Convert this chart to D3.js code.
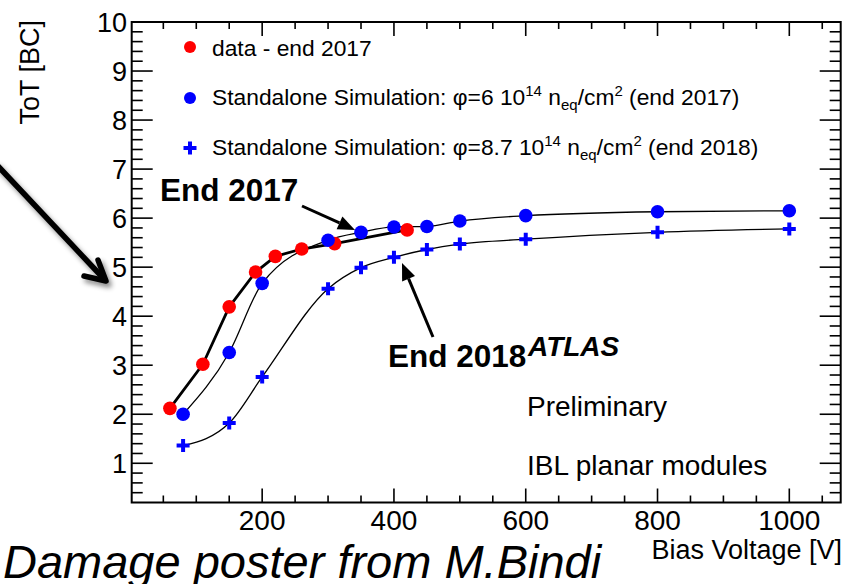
<!DOCTYPE html>
<html>
<head>
<meta charset="utf-8">
<script src="https://cdn.jsdelivr.net/npm/d3@7/dist/d3.min.js"></script>
<style>
  html, body { margin: 0; padding: 0; background: #fff; }
  svg text { font-family: "Liberation Sans", Arial, Helvetica, sans-serif; }
</style>
</head>
<body>
<svg id="chart" width="845" height="584"></svg>
<script>
// Measured ToT versus bias voltage, IBL planar modules
const dataVoltage = [60, 110, 150, 190, 220, 260, 310, 420];
const dataToT     = [2.12, 3.02, 4.19, 4.90, 5.22, 5.37, 5.48, 5.76];

// Standalone simulation, fluence 6e14 neq/cm2 (end 2017)
const sim2017Voltage = [80, 150, 200, 300, 350, 400, 450, 500, 600, 800, 1000];
const sim2017ToT     = [2.00, 3.26, 4.67, 5.55, 5.71, 5.82, 5.83, 5.94, 6.05, 6.13, 6.15];

// Standalone simulation, fluence 8.7e14 neq/cm2 (end 2018)
const sim2018Voltage = [80, 150, 200, 300, 350, 400, 450, 500, 600, 800, 1000];
const sim2018ToT     = [1.36, 1.82, 2.76, 4.56, 4.99, 5.20, 5.36, 5.47, 5.57, 5.71, 5.78];

const xMajorTicks = [200, 400, 600, 800, 1000];
const yMajorTicks = [1, 2, 3, 4, 5, 6, 7, 8, 9, 10];

const svg = d3.select("#chart");
const frame = { left: 131.7, right: 840.7, top: 22, bottom: 502.5 };

const x = d3.scaleLinear().domain([2, 1078]).range([frame.left, frame.right]);
const y = d3.scaleLinear().domain([0.2, 10]).range([frame.bottom, frame.top]);

const xMinor = d3.range(50, 1078, 50).filter(v => !xMajorTicks.includes(v));
const yMinor = d3.range(0.4, 10, 0.2).map(v => +v.toFixed(1)).filter(v => !yMajorTicks.includes(v));

// shadow for the hand-drawn pointer arrow
const defs = svg.append("defs");
const shadow = defs.append("filter").attr("id", "shadow")
  .attr("x", "-20%").attr("y", "-20%").attr("width", "150%").attr("height", "150%");
shadow.append("feDropShadow").attr("dx", 3).attr("dy", 4)
  .attr("stdDeviation", 2.5).attr("flood-color", "#000").attr("flood-opacity", 0.45);

// ticks on all four sides of the frame
const tickG = svg.append("g").attr("stroke", "#000").attr("stroke-width", 1.6);
function vTicks(vals, len) {
  vals.forEach(v => {
    tickG.append("line").attr("x1", x(v)).attr("x2", x(v))
      .attr("y1", frame.bottom).attr("y2", frame.bottom - len);
    tickG.append("line").attr("x1", x(v)).attr("x2", x(v))
      .attr("y1", frame.top).attr("y2", frame.top + len);
  });
}
function hTicks(vals, len) {
  vals.forEach(v => {
    tickG.append("line").attr("y1", y(v)).attr("y2", y(v))
      .attr("x1", frame.left).attr("x2", frame.left + len);
    tickG.append("line").attr("y1", y(v)).attr("y2", y(v))
      .attr("x1", frame.right).attr("x2", frame.right - len);
  });
}
vTicks(xMajorTicks, 14);
vTicks(xMinor, 7);
hTicks(yMajorTicks, 21);
hTicks(yMinor, 11);

svg.append("rect")
  .attr("x", frame.left).attr("y", frame.top)
  .attr("width", frame.right - frame.left).attr("height", frame.bottom - frame.top)
  .attr("fill", "none").attr("stroke", "#000").attr("stroke-width", 2);

// tick labels
svg.append("g").selectAll("text").data(xMajorTicks).join("text")
  .attr("x", d => x(d)).attr("y", 530)
  .attr("text-anchor", "middle").attr("font-size", 28)
  .text(d => d);
svg.append("g").selectAll("text").data(yMajorTicks).join("text")
  .attr("x", 127).attr("y", d => y(d) + 10)
  .attr("text-anchor", "end").attr("font-size", 27)
  .text(d => d);

// axis titles
svg.append("text").attr("transform", "translate(39,20) rotate(-90)")
  .attr("text-anchor", "end").attr("font-size", 27).text("ToT [BC]");
svg.append("text").attr("x", 842).attr("y", 559)
  .attr("text-anchor", "end").attr("font-size", 27).text("Bias Voltage [V]");

// curves
const smooth = d3.line().x(d => x(d[0])).y(d => y(d[1])).curve(d3.curveMonotoneX);
const straight = d3.line().x(d => x(d[0])).y(d => y(d[1]));
const dataPts = d3.zip(dataVoltage, dataToT);
const sim17Pts = d3.zip(sim2017Voltage, sim2017ToT);
const sim18Pts = d3.zip(sim2018Voltage, sim2018ToT);

svg.append("path").attr("d", smooth(sim18Pts)).attr("fill", "none").attr("stroke", "#000").attr("stroke-width", 1.3);
svg.append("path").attr("d", smooth(sim17Pts)).attr("fill", "none").attr("stroke", "#000").attr("stroke-width", 1.3);
svg.append("path").attr("d", straight(dataPts)).attr("fill", "none").attr("stroke", "#000")
  .attr("stroke-width", 2.8).attr("stroke-linejoin", "round");

// markers
const crossPath = "M-2,-6.5H2V-2H6.5V2H2V6.5H-2V2H-6.5V-2H-2Z";
svg.append("g").selectAll("path").data(sim18Pts).join("path")
  .attr("transform", d => `translate(${x(d[0])},${y(d[1])})`)
  .attr("d", crossPath).attr("fill", "#0000ff");
svg.append("g").selectAll("circle").data(dataPts).join("circle")
  .attr("cx", d => x(d[0])).attr("cy", d => y(d[1])).attr("r", 6.8).attr("fill", "#ff0000");
svg.append("g").selectAll("circle").data(sim17Pts).join("circle")
  .attr("cx", d => x(d[0])).attr("cy", d => y(d[1])).attr("r", 6.8).attr("fill", "#0000ff");

// legend
const legend = svg.append("g");
legend.append("circle").attr("cx", 190).attr("cy", 47).attr("r", 6).attr("fill", "#ff0000");
legend.append("circle").attr("cx", 190).attr("cy", 98).attr("r", 6).attr("fill", "#0000ff");
legend.append("path").attr("transform", "translate(190,148)").attr("d", crossPath).attr("fill", "#0000ff");

const fs = 22.8;
legend.append("text").attr("x", 212).attr("y", 56).attr("font-size", fs).text("data - end 2017");
function simLabel(yBase, phi, period) {
  const t = legend.append("text").attr("x", 212).attr("y", yBase).attr("font-size", fs);
  t.append("tspan").text(`Standalone Simulation: φ=${phi} 10`);
  t.append("tspan").attr("font-size", 15).attr("dy", -9).text("14");
  t.append("tspan").attr("dy", 9).text(" n");
  t.append("tspan").attr("font-size", 15).attr("dy", 5).text("eq");
  t.append("tspan").attr("dy", -5).text("/cm");
  t.append("tspan").attr("font-size", 15).attr("dy", -9).text("2");
  t.append("tspan").attr("dy", 9).text(` (${period})`);
}
simLabel(105, "6", "end 2017");
simLabel(155, "8.7", "end 2018");

// annotations
svg.append("text").attr("x", 160).attr("y", 201).attr("font-size", 31.5)
  .attr("font-weight", "bold").text("End 2017");
svg.append("text").attr("x", 388).attr("y", 367).attr("font-size", 31.5)
  .attr("font-weight", "bold").text("End 2018");
svg.append("text").attr("x", 528).attr("y", 356).attr("font-size", 28)
  .attr("font-weight", "bold").attr("font-style", "italic").text("ATLAS");
svg.append("text").attr("x", 527).attr("y", 416).attr("font-size", 28).text("Preliminary");
svg.append("text").attr("x", 527).attr("y", 475).attr("font-size", 28).text("IBL planar modules");

function arrow(x1, y1, x2, y2) {
  const ang = Math.atan2(y2 - y1, x2 - x1);
  const hl = 17, hw = 7;
  const bx = x2 - hl * Math.cos(ang), by = y2 - hl * Math.sin(ang);
  svg.append("line").attr("x1", x1).attr("y1", y1).attr("x2", bx).attr("y2", by)
    .attr("stroke", "#000").attr("stroke-width", 3);
  const px = -Math.sin(ang) * hw, py = Math.cos(ang) * hw;
  svg.append("path")
    .attr("d", `M${x2},${y2}L${bx + px},${by + py}L${bx - px},${by - py}Z`)
    .attr("fill", "#000");
}
arrow(302, 206, 355, 230);
arrow(433, 337, 402, 263);

// hand-drawn pointer towards the axis
const pointer = svg.append("g").attr("filter", "url(#shadow)")
  .attr("stroke", "#000").attr("stroke-width", 5.5).attr("fill", "none")
  .attr("stroke-linecap", "round").attr("stroke-linejoin", "round");
pointer.append("path").attr("d", "M-4,164L105,280");
pointer.append("path").attr("d", "M98,260L106,281L84,276");

svg.append("text").attr("x", 3).attr("y", 578).attr("font-size", 47)
  .attr("font-style", "italic").text("Damage poster from M.Bindi");
</script>
</body>
</html>
